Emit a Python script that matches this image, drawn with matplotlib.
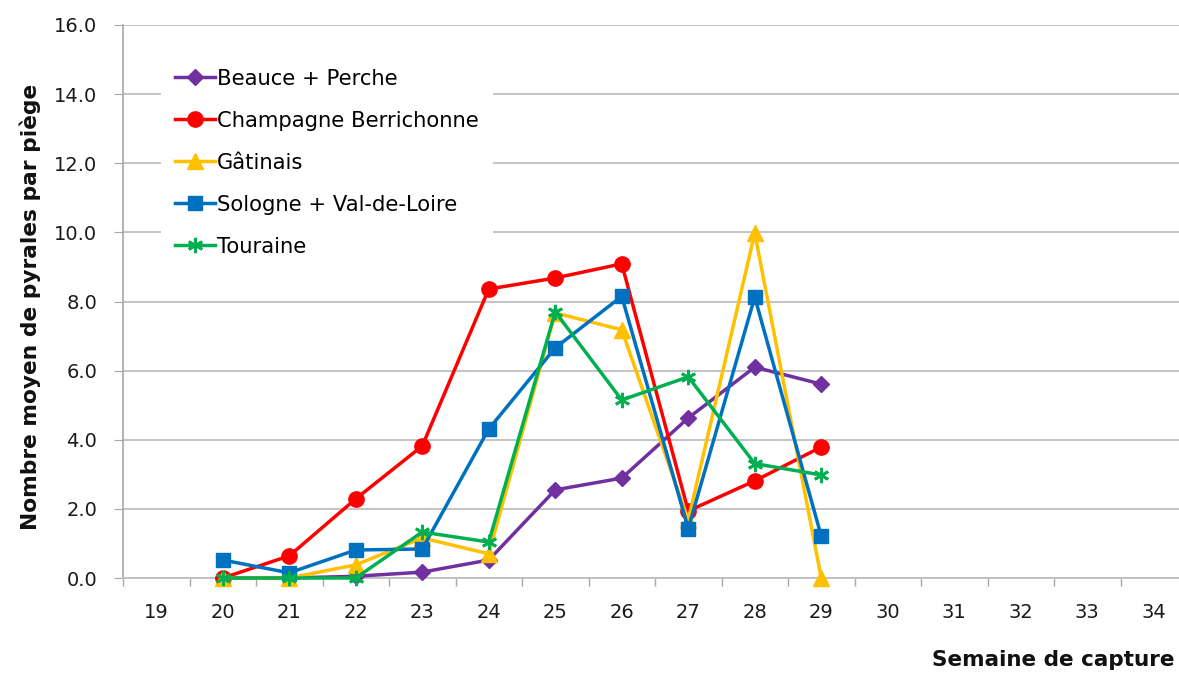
import matplotlib.pyplot as plt
import numpy as np

plt.rcParams['font.family'] = ['DejaVu Sans']

weeks = [19, 20, 21, 22, 23, 24, 25, 26, 27, 28, 29, 30, 31, 32, 33, 34]
nan = np.nan
beauce = [nan, 0.0, 0.0, 0.05, 0.17, 0.52, 2.55, 2.89, 4.63, 6.10, 5.61, nan, nan, nan, nan, nan]
champagne = [nan, 0.0, 0.64, 2.29, 3.82, 8.36, 8.68, 9.09, 1.94, 2.81, 3.79, nan, nan, nan, nan, nan]
gatinais = [nan, 0.0, 0.0, 0.38, 1.16, 0.70, 7.67, 7.18, 1.68, 9.98, 0.0, nan, nan, nan, nan, nan]
sologne = [nan, 0.52, 0.15, 0.81, 0.84, 4.31, 6.66, 8.15, 1.43, 8.13, 1.21, nan, nan, nan, nan, nan]
touraine = [nan, 0.0, 0.0, 0.0, 1.33, 1.04, 7.70, 5.15, 5.82, 3.31, 2.98, nan, nan, nan, nan, nan]

labels = ["Beauce + Perche", "Champagne Berrichonne", "Gâtinais",
          "Sologne + Val-de-Loire", "Touraine"]
colors = ["#7030A0", "#FF0000", "#FFC000", "#0070C0", "#00B050"]
markers = ["D", "o", "^", "s", (6, 2, 0)]
msizes = [8, 11, 12, 9.5, 11]

fig = plt.figure(figsize=(11.79, 6.75), dpi=100)
ax = fig.add_axes([123/1179, 97/675, 1064/1179, 553/675])

x = np.arange(len(weeks))
series = [beauce, champagne, gatinais, sologne, touraine]
for s, lab, c, m, ms in zip(series, labels, colors, markers, msizes):
    ax.plot(x, s, color=c, lw=2.5, marker=m, markersize=ms, markerfacecolor=c,
            markeredgecolor=c, markeredgewidth=2 if m == (6, 2, 0) else 1,
            label=lab, zorder=3, clip_on=False)

ax.set_xlim(-0.5, len(weeks) - 0.5)
ax.set_ylim(0, 16)
ax.set_yticks(np.arange(0, 16.1, 2))
ax.set_yticklabels(["%.1f" % v for v in np.arange(0, 16.1, 2)])
ax.set_xticks(x)
ax.set_xticklabels([str(w) for w in weeks])
ax.set_xticks(np.arange(-0.5, len(weeks), 1), minor=True)

ax.grid(axis='y', color='#BFBFBF', lw=1.3, zorder=0)
ax.set_axisbelow(True)
for sp in ['top', 'right']:
    ax.spines[sp].set_visible(False)
ax.spines['left'].set_color('#A6A6A6')
ax.spines['bottom'].set_color('#BFBFBF')
ax.spines['left'].set_linewidth(1.2)
ax.spines['bottom'].set_linewidth(1.3)

ax.tick_params(axis='y', length=6.5, color='#A6A6A6', pad=12, labelsize=14, labelcolor='#1a1a1a')
ax.tick_params(axis='x', which='major', length=0, pad=18, labelsize=14, labelcolor='#1a1a1a')
ax.tick_params(axis='x', which='minor', length=6, color='#A6A6A6', width=1)

leg = ax.legend(loc='upper left', bbox_to_anchor=(38/1064, 1 - 30/553), frameon=True,
                fontsize=15.2, labelspacing=1.04, handlelength=1.9, handletextpad=0.12,
                borderpad=0.65, borderaxespad=0)
leg.get_frame().set_facecolor('white')
leg.get_frame().set_edgecolor('none')
leg.get_frame().set_alpha(1)
leg.get_frame().set_boxstyle('square', pad=0)

fig.text(30/1179, 1 - 307/675, "Nombre moyen de pyrales par piège", rotation=90,
         ha='center', va='center', fontsize=15.7, fontweight='bold', color='#111111')
fig.text(1174/1179, 1 - 660/675, "Semaine de capture", ha='right', va='center',
         fontsize=15.5, fontweight='bold', color='#111111')

fig.savefig("out.png", dpi=100)
